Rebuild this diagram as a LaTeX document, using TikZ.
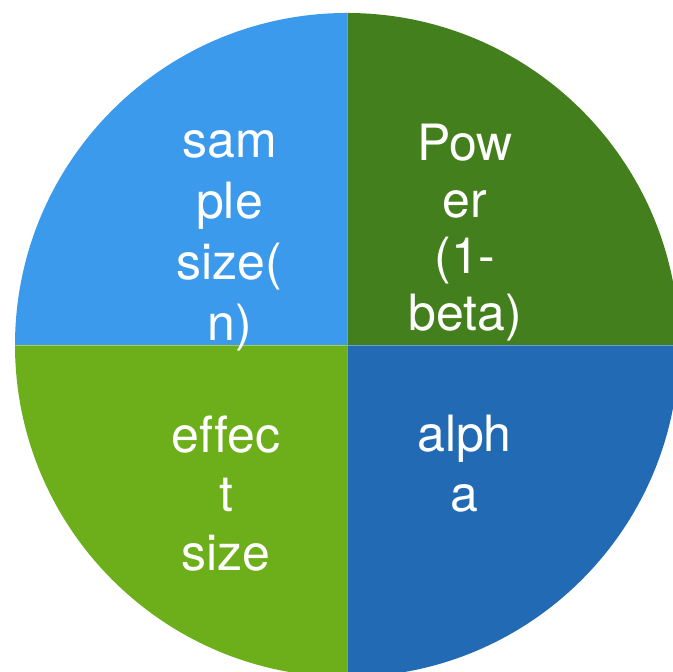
\documentclass[tikz,border=0pt]{standalone}
\usepackage{fontspec}
\setmainfont[Ligatures=NoCommon]{TeX Gyre Heros}
\usetikzlibrary{positioning}
\definecolor{tlblue}{HTML}{3C9AEC}
\definecolor{trgreen}{HTML}{447F1D}
\definecolor{blgreen}{HTML}{6DAE1B}
\definecolor{brblue}{HTML}{226AB4}
\begin{document}
\begin{tikzpicture}[x=0.5pt,y=0.5pt,every node/.style={text=white,inner sep=0pt,align=center,anchor=base}]
\useasboundingbox (0,0) rectangle (673,672);
\clip (0,0) rectangle (673,672);
\coordinate (c) at (347,327);
\fill[tlblue] (c) -- ++(0,332) arc[start angle=90,end angle=180,radius=332] -- cycle;
\fill[trgreen] (c) -- ++(332,0) arc[start angle=0,end angle=90,radius=332] -- cycle;
\fill[blgreen] (c) -- ++(-332,0) arc[start angle=180,end angle=270,radius=332] -- cycle;
\fill[brblue] (c) -- ++(0,-332) arc[start angle=270,end angle=360,radius=332] -- cycle;
\draw[white,opacity=.35,line width=.4pt] (c) -- ++(0,332) (c) -- ++(0,-332) (c) -- ++(332,0) (c) -- ++(-332,0);
\node[font=\fontsize{25}{30.4}\selectfont] (n) at (229.5,331.6) {sam\\ple\\size(\\n)};
\node[font=\fontsize{25}{28.4}\selectfont] (power) at (465,341.3) {Pow\\er\\(1-\\beta)};
\node[font=\fontsize{25}{29.5}\selectfont] (effect) at (226,101.3) {effec\\t\\size};
\node[font=\fontsize{25}{30}\selectfont] (alpha) at (464.5,160.3) {alph\\a};
\end{tikzpicture}
\end{document}
